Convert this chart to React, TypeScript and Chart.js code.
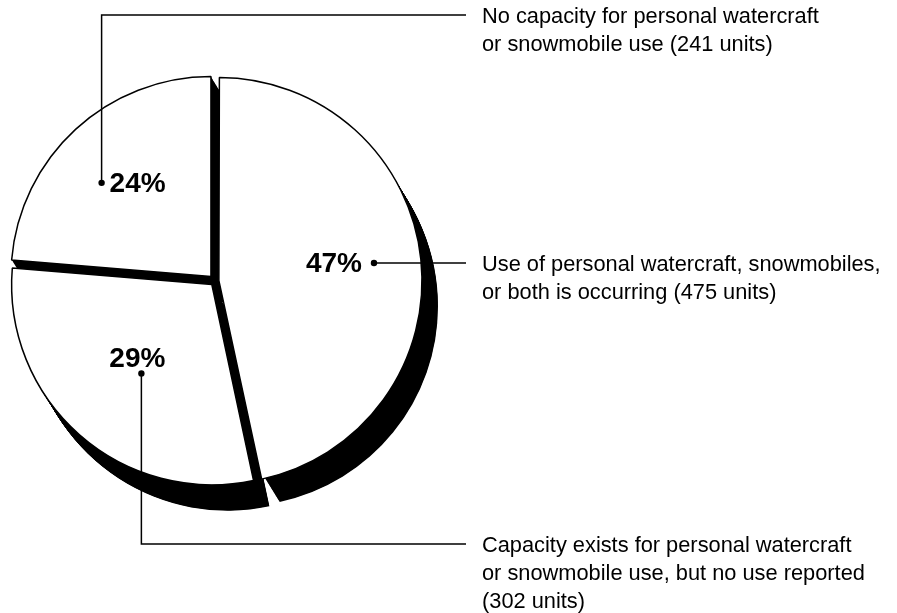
import React, { useEffect, useRef } from "react";
import { Chart, registerables } from "chart.js";

Chart.register(...registerables);

// ---- data ----
const categories = [
  "Use of personal watercraft, snowmobiles, or both is occurring",
  "Capacity exists for personal watercraft or snowmobile use, but no use reported",
  "No capacity for personal watercraft or snowmobile use",
];
const units = [475, 302, 241];
const percentLabels = ["47%", "29%", "24%"];
const labelLines = [
  ["Use of personal watercraft, snowmobiles,", "or both is occurring"],
  ["Capacity exists for personal watercraft", "or snowmobile use, but no use reported", ""],
  ["No capacity for personal watercraft", "or snowmobile use"],
];

// ---- layout / style ----
const W = 897;
const H = 613;
const RADIUS = 200;
const EXPLODE = [7, 5, 6];
const SHADOW_X = 16;
const SHADOW_Y = 26;
const anchorDeg = [-6.5, 128.4, 220.6];
const anchorFrac = [0.765, 0.566, 0.72];
const elbowY: (number | null)[] = [null, 544, 15];
const LEADER_END_X = 466;
const TEXT_X = 482;
const LINE_H = 28;
const FONT = '"Liberation Sans", Arial, Helvetica, sans-serif';

const total = units.reduce((a, b) => a + b, 0);

function sliceCenter(arc: any) {
  const p = arc.getProps(["x", "y", "startAngle", "endAngle", "circumference"], true);
  const off = (arc.options.offset || 0) / 4;
  const fix = 1 - Math.sin(Math.min(Math.PI, p.circumference || 0));
  const d = off * (1 + fix);
  const half = (p.startAngle + p.endAngle) / 2;
  return { x: p.x + Math.cos(half) * d, y: p.y + Math.sin(half) * d, s: p.startAngle, e: p.endAngle };
}

const shadowPlugin = {
  id: "shadow3d",
  beforeDatasetsDraw(chart: any) {
    const ctx = chart.ctx;
    const meta = chart.getDatasetMeta(0);
    ctx.save();
    ctx.fillStyle = "#000";
    meta.data.forEach((arc: any) => {
      const c = sliceCenter(arc);
      const r = arc.outerRadius;
      const N = 48;
      for (let k = 1; k <= N; k++) {
        const dx = (SHADOW_X * k) / N;
        const dy = (SHADOW_Y * k) / N;
        ctx.beginPath();
        ctx.moveTo(c.x + dx, c.y + dy);
        ctx.arc(c.x + dx, c.y + dy, r, c.s, c.e);
        ctx.closePath();
        ctx.fill();
      }
    });
    ctx.restore();
  },
};

const labelPlugin = {
  id: "calloutLabels",
  afterDraw(chart: any) {
    const ctx = chart.ctx;
    const meta = chart.getDatasetMeta(0);
    ctx.save();
    meta.data.forEach((arc: any, i: number) => {
      const c = sliceCenter(arc);
      const r = arc.outerRadius;
      const a = (anchorDeg[i] * Math.PI) / 180;
      const dot = { x: c.x + Math.cos(a) * r * anchorFrac[i], y: c.y + Math.sin(a) * r * anchorFrac[i] };

      // leader line
      ctx.strokeStyle = "#000";
      ctx.lineWidth = 1.5;
      ctx.beginPath();
      ctx.moveTo(dot.x, dot.y);
      const ey = elbowY[i];
      let ly = dot.y;
      if (ey !== null) {
        ctx.lineTo(dot.x, ey);
        ly = ey;
      }
      ctx.lineTo(LEADER_END_X, ly);
      ctx.stroke();

      // dot
      ctx.fillStyle = "#000";
      ctx.beginPath();
      ctx.arc(dot.x, dot.y, 3.2, 0, Math.PI * 2);
      ctx.fill();

      // percent
      const pct = percentLabels[i];
      ctx.font = `bold 28px ${FONT}`;
      ctx.textBaseline = "middle";
      if (i === 0) {
        ctx.textAlign = "right";
        ctx.fillText(pct, dot.x - 12, dot.y + 1);
      } else if (i === 1) {
        ctx.textAlign = "center";
        ctx.fillText(pct, dot.x - 4, dot.y - 14);
      } else {
        ctx.textAlign = "left";
        ctx.fillText(pct, dot.x + 8, dot.y + 1);
      }

      // description
      const lines = labelLines[i].slice();
      const last = lines.length - 1;
      lines[last] = (lines[last] ? lines[last] + " " : "") + `(${units[i]} units)`;
      ctx.font = `21.8px ${FONT}`;
      ctx.textAlign = "left";
      ctx.textBaseline = "middle";
      lines.forEach((t, j) => ctx.fillText(t, TEXT_X, ly + 2 + j * LINE_H));
    });
    ctx.restore();
  },
};

export default function App() {
  const ref = useRef<HTMLCanvasElement | null>(null);
  useEffect(() => {
    if (!ref.current) return;
    const chart = new Chart(ref.current, {
      type: "pie",
      data: {
        labels: categories,
        datasets: [
          {
            data: units,
            backgroundColor: "#ffffff",
            borderColor: "#000000",
            borderWidth: 1.5,
            offset: (ctx: any) => {
              const v = units[ctx.dataIndex] / total;
              const circ = v * Math.PI * 2;
              const fix = 1 - Math.sin(Math.min(Math.PI, circ));
              return (EXPLODE[ctx.dataIndex] * 4) / (1 + fix);
            },
          } as any,
        ],
      },
      options: {
        animation: false,
        responsive: false,
        radius: RADIUS,
        layout: { padding: { left: 0, top: 0, right: 467, bottom: 51 } },
        plugins: { legend: { display: false }, tooltip: { enabled: false } },
      } as any,
      plugins: [shadowPlugin, labelPlugin],
    });
    return () => chart.destroy();
  }, []);
  return (
    <div style={{ position: "absolute", left: 0, top: 0, width: W, height: H, background: "#fff" }}>
      <canvas ref={ref} width={W} height={H} style={{ display: "block" }} />
    </div>
  );
}
